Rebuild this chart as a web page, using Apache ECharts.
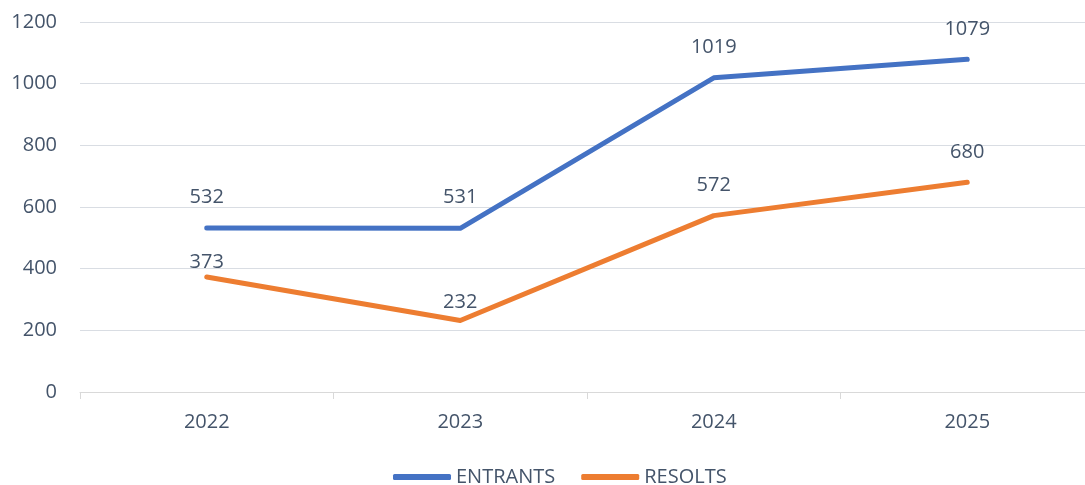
<!DOCTYPE html>
<html>
<head>
<meta charset="utf-8">
<script src="https://cdn.jsdelivr.net/npm/echarts@6/dist/echarts.min.js"></script>
<style>
  html, body { margin: 0; padding: 0; background: #fff; }
  #main { width: 1085px; height: 485px; }
</style>
</head>
<body>
<div id="main"></div>
<script>
  // values
  var years = ['2022', '2023', '2024', '2025'];
  var entrants = [532, 531, 1019, 1079];
  var resolts = [373, 232, 572, 680];
  // a couple of labels sit closer to their point in the original
  var resoltsLabelGap = [4, 8, 20, 20];

  var textColor = '#44546a';
  var font = 'Open Sans';

  var chart = echarts.init(document.getElementById('main'));
  chart.setOption({
    animation: false,
    textStyle: { fontFamily: font },
    grid: { left: 80, width: 1014, top: 22, bottom: 93, containLabel: false, outerBoundsMode: 'none' },
    legend: {
      top: 462,
      left: 388,
      icon: 'roundRect',
      itemWidth: 58,
      itemHeight: 6,
      itemGap: 26,
      textStyle: { color: textColor, fontSize: 20, fontFamily: font },
      data: ['ENTRANTS', 'RESOLTS']
    },
    xAxis: {
      type: 'category',
      data: years,
      axisLine: { lineStyle: { color: '#d9d9d9', width: 1 } },
      axisTick: { show: true, length: 7, lineStyle: { color: '#d9d9d9' } },
      axisLabel: { color: textColor, fontSize: 20, margin: 20 }
    },
    yAxis: {
      type: 'value',
      min: 0,
      max: 1200,
      interval: 200,
      axisLine: { show: false },
      axisTick: { show: false },
      splitLine: { lineStyle: { color: '#d9dde3', width: 1 } },
      axisLabel: { color: textColor, fontSize: 20, margin: 23, formatter: function (v) { return String(v); } }
    },
    series: [
      {
        name: 'ENTRANTS',
        type: 'line',
        data: entrants,
        symbol: 'circle',
        symbolSize: 1,
        itemStyle: { color: '#4472c4' },
        lineStyle: { color: '#4472c4', width: 5, cap: 'round', join: 'round' },
        label: { show: true, position: 'top', distance: 20, color: textColor, fontSize: 20 }
      },
      {
        name: 'RESOLTS',
        type: 'line',
        data: resolts.map(function (v, i) {
          return { value: v, label: { distance: resoltsLabelGap[i] } };
        }),
        symbol: 'circle',
        symbolSize: 1,
        itemStyle: { color: '#ed7d31' },
        lineStyle: { color: '#ed7d31', width: 5, cap: 'round', join: 'round' },
        label: { show: true, position: 'top', distance: 20, color: textColor, fontSize: 20 }
      }
    ]
  });
</script>
</body>
</html>
